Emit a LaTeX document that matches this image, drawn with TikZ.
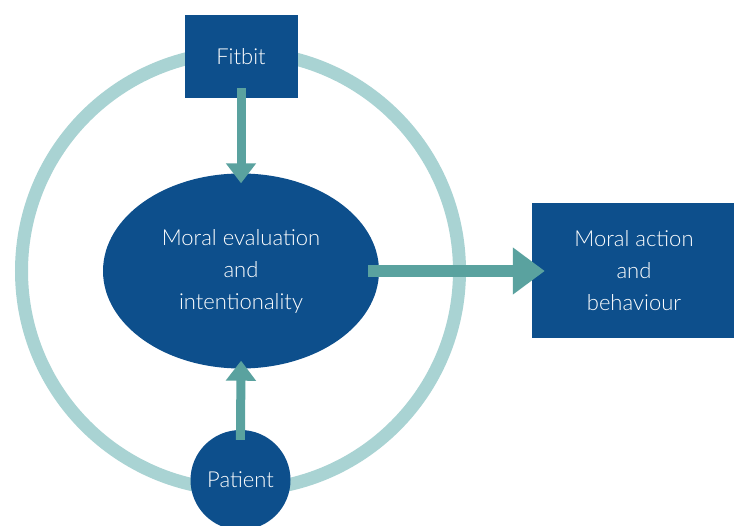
\documentclass[tikz,border=0pt]{standalone}
\usepackage{fontspec}
\setmainfont{Lato}[UprightFont=* Light]
\usetikzlibrary{shapes.geometric,arrows.meta}
\definecolor{navy}{HTML}{0D4F8C}
\definecolor{teal}{HTML}{5AA29F}
\definecolor{ringc}{HTML}{A9D3D3}
\tikzset{
  labeltext/.style={text=white, font=\fontsize{22}{32}\selectfont, align=center, inner sep=0pt},
  boxnode/.style={labeltext, fill=navy, draw=none},
  flow/.style={draw=teal, line width=9pt, -{Triangle[width=29pt,length=20pt]}},
  bigflow/.style={draw=teal, line width=12pt, -{Triangle[width=45pt,length=32pt]}},
}
\begin{document}
\begin{tikzpicture}[x=1pt,y=-1pt]
  \useasboundingbox (0,0) rectangle (734,526);
  \clip (0,0) rectangle (734,526);
  \fill[white] (0,0) rectangle (734,526);
  % outer cycle ring
  \draw[ringc, line width=13pt] (240.5,271) circle (219);
  % nodes
  \node[boxnode, minimum width=113pt, minimum height=83pt] (fitbit) at (241,56.5) {Fitbit};
  \node[boxnode, circle, minimum size=100pt] (patient) at (240.5,480) {Patient};
  \node[boxnode, ellipse, minimum width=276pt, minimum height=195pt] (eval) at (241,271)
    {Moral evaluation\\and\\intentionality};
  \node[boxnode, minimum width=204pt, minimum height=135pt] (action) at (634,271)
    {Moral action\\and\\behaviour};
  % connectors
  \draw[flow, shorten <=-10pt, shorten >=-10pt] (fitbit.south) -- (eval.north);
  \draw[flow, shorten <=-10pt, shorten >=-8pt] (patient.north) -- (eval.south);
  \draw[bigflow, shorten <=-11pt, shorten >=-13pt] (eval.east) -- (action.west);
\end{tikzpicture}
\end{document}
